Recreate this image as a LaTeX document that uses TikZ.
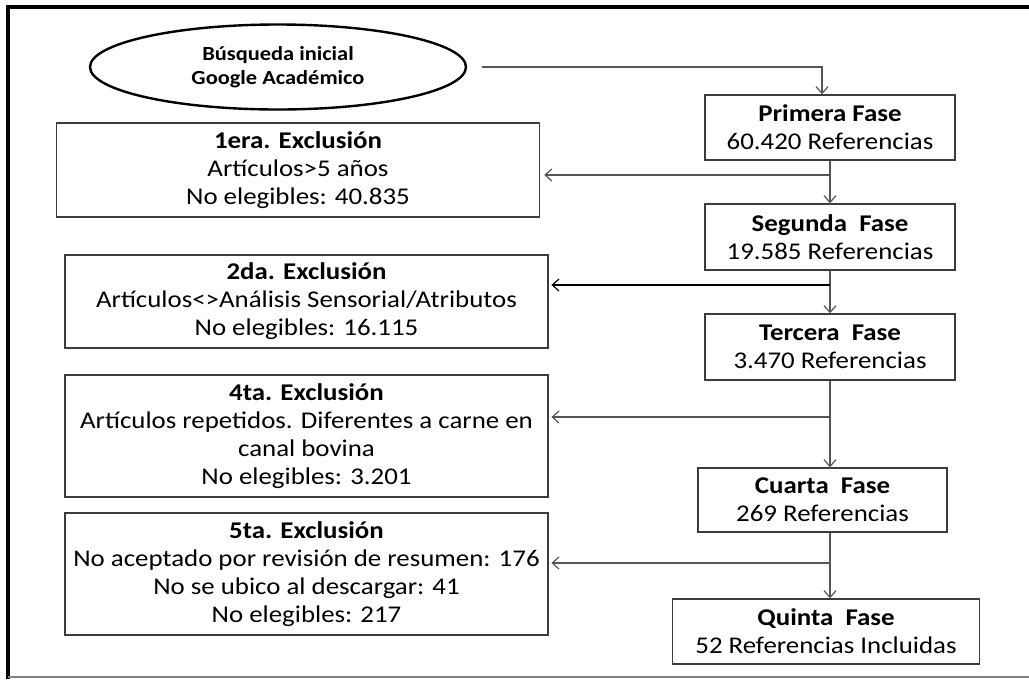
\documentclass[tikz,border=0pt]{standalone}
\usepackage{fontspec}
\setmainfont{Carlito}[FakeStretch=1.12]
\usetikzlibrary{arrows.meta,shapes.geometric}
\definecolor{borde}{RGB}{60,60,60}
\definecolor{linea}{RGB}{85,85,85}

\begin{document}
\begin{tikzpicture}[x=0.75pt,y=0.75pt,yscale=-1,xscale=1,
  caja/.style={draw=borde, line width=1.1pt, align=center, inner sep=0pt, font=\fontsize{18}{21}\selectfont},
  fase/.style={caja, minimum width=187.5pt, minimum height=49.5pt},
  exclusion/.style={caja, minimum width=362.25pt},
  flecha/.style={draw=linea, line width=0.9pt, -{Straight Barb[length=5pt,width=9pt]}}
  ]
\useasboundingbox (0,0) rectangle (1029,679);

%Shape: Frame
\draw [line width=2.6pt] (8,679) -- (8,7) -- (1029,7) ;
\draw [draw=gray, line width=1.2pt] (8,677) -- (1029,677) ;

%Shape: Ellipse
\node [ellipse, draw, line width=1.8pt, minimum width=282pt, minimum height=63.75pt, inner sep=0pt, align=center, font=\bfseries\fontsize{15}{18}\selectfont] (busqueda) at (278,67) {Búsqueda inicial\\Google Académico};

% Text Node
\node [fase, minimum height=48.75pt] (primera) at (830,127.5) {\textbf{Primera Fase}\\60.420 Referencias};
% Text Node
\node [fase] (segunda) at (830,237) {\textbf{Segunda\ \ Fase}\\19.585 Referencias};
% Text Node
\node [fase] (tercera) at (830,347) {\textbf{Tercera\ \ Fase}\\3.470 Referencias};
% Text Node
\node [fase, minimum width=186.75pt, minimum height=48pt] (cuarta) at (822.5,500) {\textbf{Cuarta\ \ Fase}\\269 Referencias};
% Text Node
\node [fase, minimum width=230.25pt, minimum height=48.75pt] (quinta) at (826,631.5) {\textbf{Quinta\ \ Fase}\\52 Referencias Incluidas};

% Text Node
\node [exclusion, minimum height=70.5pt] (excl1) at (298,170) {\textbf{1era. Exclusión}\\Artículos>5 años\\No elegibles: 40.835};
% Text Node
\node [exclusion, minimum height=69.75pt] (excl2) at (306.5,301.5) {\textbf{2da. Exclusión}\\Artículos<>Análisis Sensorial/Atributos\\No elegibles: 16.115};
% Text Node
\node [exclusion, minimum height=91.5pt] (excl4) at (306.5,436) {\textbf{4ta. Exclusión}\\Artículos repetidos. Diferentes a carne en\\canal bovina\\No elegibles: 3.201};
% Text Node
\node [exclusion, minimum height=91.5pt] (excl5) at (306.5,574) {\textbf{5ta. Exclusión}\\No aceptado por revisión de resumen: 176\\No se ubico al descargar: 41\\No elegibles: 217};

\coordinate (b1) at (830,175);
\coordinate (b2) at (830,285);
\coordinate (b3) at (830,417);
\coordinate (b4) at (830,563);

%Connectors
\draw [flecha] ([xshift=11pt]busqueda.east) -| ([xshift=-6pt]primera.north) ;
\draw [flecha] (primera.south) -- (segunda.north) ;
\draw [flecha] (segunda.south) -- (tercera.north) ;
\draw [flecha] (tercera.south) -- (tercera.south |- cuarta.north) ;
\draw [flecha] (tercera.south |- cuarta.south) -- (tercera.south |- quinta.north) ;
\draw [flecha, shorten >=3pt] (b1) -- (b1 -| excl1.east) ;
\draw [flecha, draw=black, shorten >=2pt] (b2) -- (b2 -| excl2.east) ;
\draw [flecha, shorten >=2pt] (b3) -- (b3 -| excl4.east) ;
\draw [flecha, shorten >=2pt] (b4) -- (b4 -| excl5.east) ;

\end{tikzpicture}
\end{document}
